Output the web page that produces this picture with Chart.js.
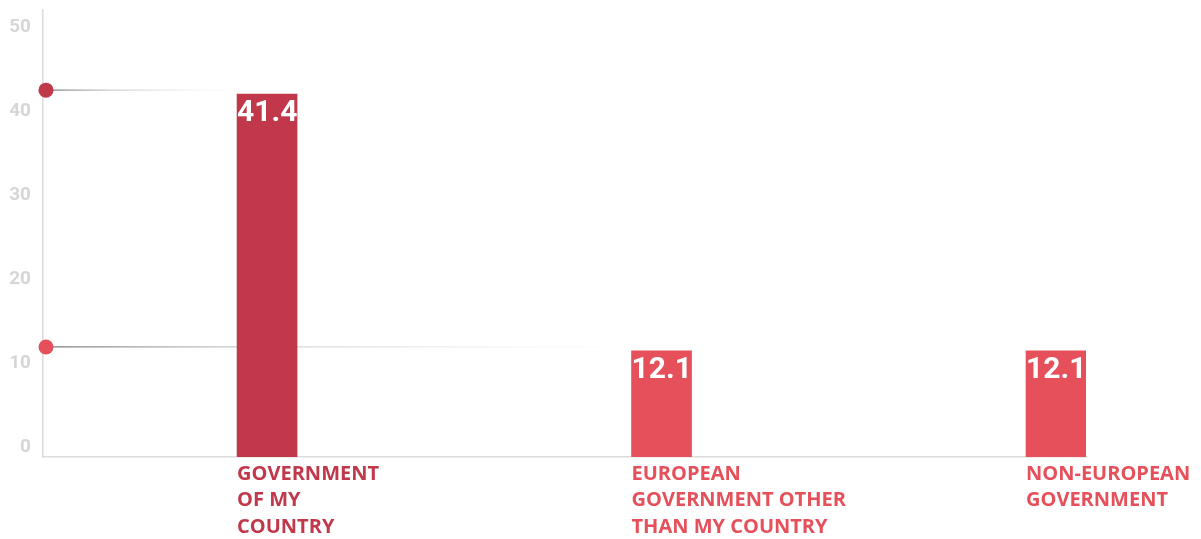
<!DOCTYPE html>
<html>
<head>
<meta charset="utf-8">
<script src="https://cdn.jsdelivr.net/npm/chart.js@4/dist/chart.umd.min.js"></script>
<style>
  html, body { margin: 0; padding: 0; background: #fff; }
  #wrap { width: 1201px; height: 539px; position: relative; }
</style>
</head>
<body>
<div id="wrap"><canvas id="myChart"></canvas></div>
<script>
// categories, one array of lines per bar
const categories = [
  ["GOVERNMENT", "OF MY", "COUNTRY"],
  ["EUROPEAN", "GOVERNMENT OTHER", "THAN MY COUNTRY"],
  ["NON-EUROPEAN", "GOVERNMENT"]
];
const shares = [41.4, 12.1, 12.1];
const yTickValues = [0, 10, 20, 30, 40, 50];
const barColors = ["#C0384A", "#E5505A", "#E5505A"];

const DARK_RED = "#C0384A";
const LIGHT_RED = "#E5505A";
const AXIS_GREY = "#DCDCDC";
const LABEL_FONT = "'Open Sans', 'Noto Sans', sans-serif";
const NUM_FONT = "Roboto, 'Noto Sans', sans-serif";

// dot on the y axis for each distinct value, with a fading rule to its first bar
const markerLines = {
  id: "markerLines",
  beforeDatasetsDraw(chart) {
    const ctx = chart.ctx;
    const yScale = chart.scales.y;
    const meta = chart.getDatasetMeta(0);
    const area = chart.chartArea;
    const seen = [];
    shares.forEach((v, i) => {
      if (seen.includes(v)) return;
      seen.push(v);
      const bar = meta.data[i];
      const y = yScale.getPixelForValue(v) - 4;
      const x0 = area.left + 3;
      const x1 = bar.x - bar.width / 2;
      const grad = ctx.createLinearGradient(x0, 0, x1, 0);
      grad.addColorStop(0, "rgba(110,110,110,0.95)");
      grad.addColorStop(0.35, "rgba(150,150,150,0.45)");
      grad.addColorStop(1, "rgba(200,200,200,0)");
      ctx.save();
      ctx.strokeStyle = grad;
      ctx.lineWidth = 1.2;
      ctx.beginPath();
      ctx.moveTo(x0, y);
      ctx.lineTo(x1, y);
      ctx.stroke();
      ctx.fillStyle = barColors[i];
      ctx.beginPath();
      ctx.arc(x0, y, 7.5, 0, Math.PI * 2);
      ctx.fill();
      ctx.restore();
    });
  }
};

// white value written inside the top of each bar
const barValues = {
  id: "barValues",
  afterDatasetsDraw(chart) {
    const ctx = chart.ctx;
    const meta = chart.getDatasetMeta(0);
    ctx.save();
    ctx.fillStyle = "#ffffff";
    ctx.font = "bold 30px " + NUM_FONT;
    ctx.textAlign = "left";
    ctx.textBaseline = "alphabetic";
    meta.data.forEach((bar, i) => {
      ctx.fillText(shares[i].toFixed(1), bar.x - bar.width / 2, bar.y + 27);
    });
    ctx.restore();
  }
};

function CreateChart() {
  const ctx = document.getElementById("myChart");

  const chart = new Chart(ctx, {
    type: "bar",
    data: {
      datasets: [{
        data: shares.map((v, i) => ({ x: i, y: v })),
        xAxisID: "x",
        yAxisID: "y",
        backgroundColor: barColors,
        borderWidth: 0,
        barThickness: 60
      }]
    },
    options: {
      responsive: true,
      maintainAspectRatio: false,
      animation: false,
      layout: { padding: { top: 10, right: 115, left: 0, bottom: 0 } },
      plugins: { legend: { display: false }, tooltip: { enabled: false } },
      scales: {
        x: {
          type: "linear",
          offset: false,
          min: -0.568,
          max: 2.076,
          grid: { display: false, drawTicks: false },
          border: { display: true, color: AXIS_GREY, width: 1.5 },
          afterBuildTicks: (scale) => { scale.ticks = categories.map((c, i) => ({ value: i })); },
          afterFit: (scale) => { scale.height = 82; scale.paddingLeft = 0; scale.paddingRight = 0; },
          ticks: {
            autoSkip: false,
            maxRotation: 0,
            minRotation: 0,
            align: "start",
            labelOffset: -30,
            padding: 4,
            color: (c) => (c.index === 0 ? DARK_RED : LIGHT_RED),
            font: { family: LABEL_FONT, size: 20, weight: "bold", lineHeight: 1.325 },
            callback: (value) => categories[value]
          }
        },
        y: {
          type: "linear",
          position: "left",
          weight: 0,
          min: 0,
          max: 51,
          grid: { display: false, drawTicks: false },
          border: { display: true, color: AXIS_GREY, width: 1.5 },
          ticks: { display: false },
          afterFit: (scale) => { scale.width = 0; scale.paddingTop = 0; scale.paddingBottom = 0; }
        },
        yLabels: {
          type: "linear",
          position: "left",
          weight: 10,
          min: -1.19,
          max: 52.024,
          grid: { display: false, drawTicks: false },
          border: { display: false },
          afterBuildTicks: (scale) => { scale.ticks = yTickValues.map(v => ({ value: v })); },
          afterFit: (scale) => { scale.width = 43; scale.paddingTop = 0; scale.paddingBottom = 0; },
          ticks: {
            padding: 12,
            color: "#D6D6D6",
            font: { family: NUM_FONT, size: 19, weight: "bold" }
          }
        }
      }
    },
    plugins: [markerLines, barValues]
  });

  return chart;
}

CreateChart();
</script>
</body>
</html>
